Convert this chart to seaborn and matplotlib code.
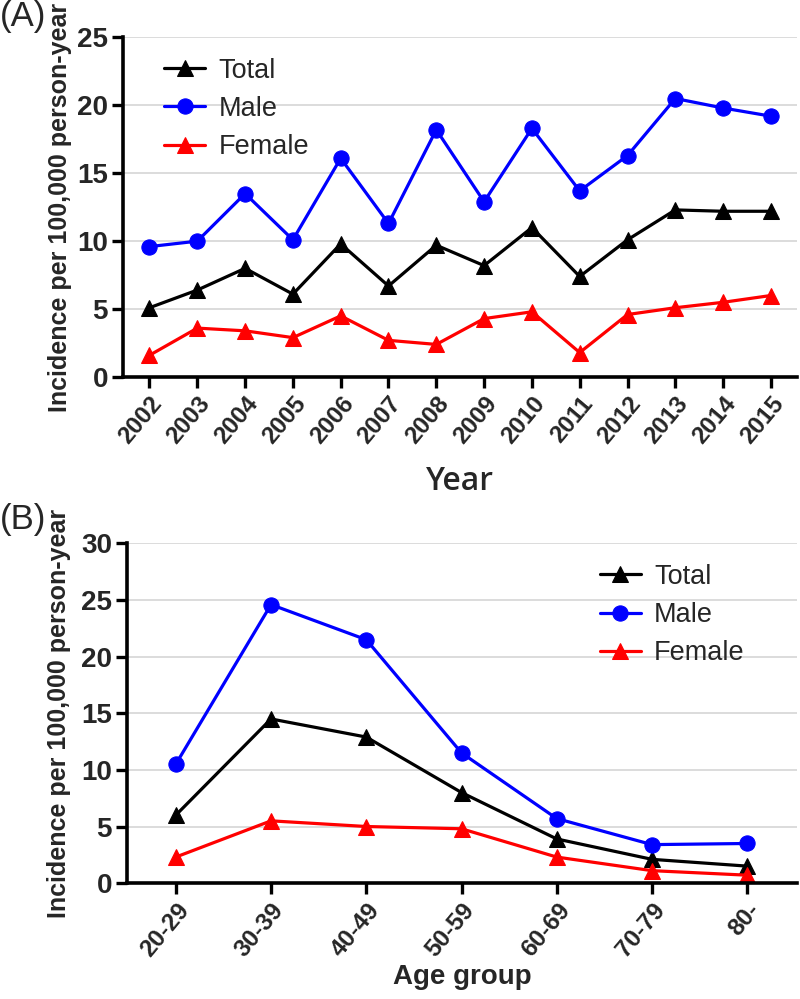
"""
Incidence per 100,000 person-year by year (A) and by age group (B).
"""

import pandas as pd
import seaborn as sns
import matplotlib.pyplot as plt

# Panel A: incidence by year
years = ['2002', '2003', '2004', '2005', '2006', '2007', '2008',
         '2009', '2010', '2011', '2012', '2013', '2014', '2015']
total_by_year = [5.1, 6.4, 8.0, 6.1, 9.8, 6.7, 9.7, 8.2, 11.0, 7.4, 10.1, 12.3, 12.2, 12.2]
male_by_year = [9.6, 10.0, 13.5, 10.1, 16.1, 11.3, 18.2, 12.9, 18.3, 13.7, 16.3, 20.5, 19.8, 19.2]
female_by_year = [1.6, 3.6, 3.4, 2.9, 4.5, 2.7, 2.4, 4.3, 4.8, 1.8, 4.6, 5.1, 5.5, 6.0]

# Panel B: incidence by age group
age_groups = ['20-29', '30-39', '40-49', '50-59', '60-69', '70-79', '80-']
total_by_age = [6.0, 14.5, 12.9, 8.0, 3.9, 2.1, 1.5]
male_by_age = [10.5, 24.6, 21.5, 11.5, 5.7, 3.4, 3.5]
female_by_age = [2.3, 5.5, 5.0, 4.8, 2.3, 1.1, 0.7]

sns.set_style("white")
plt.rcParams['font.family'] = ['Liberation Sans', 'DejaVu Sans']

# Style of each series: (color, marker)
series_styles = {
    'Total': ('black', '^'),
    'Male': ('#0000ff', 'o'),
    'Female': ('#ff0000', '^'),
}

ylabel_text = 'Incidence per 100,000 person-year'


def draw_panel(ax, categories, series, ymax, legend_anchor, xlim, rotation):
    """Draw one panel with the three series."""
    x_pos = list(range(len(categories)))
    for name, values in series.items():
        color, marker = series_styles[name]
        df = pd.DataFrame({'x': x_pos, 'y': values})
        sns.lineplot(data=df, x='x', y='y', ax=ax, color=color, marker=marker,
                     markersize=11, markeredgecolor=color, linewidth=2.3,
                     label=name, sort=False, clip_on=False)

    ax.set_ylim(0, ymax)
    ax.set_xlim(*xlim)
    ax.set_yticks(range(0, ymax + 1, 5))
    ax.set_xticks(x_pos)
    ax.set_xticklabels(categories, rotation=rotation, ha='right',
                       rotation_mode='anchor', fontweight='bold', fontsize=17.5)
    for lab in ax.get_yticklabels():
        lab.set_fontweight('bold')
        lab.set_fontsize(20)

    # Light horizontal grid
    ax.yaxis.grid(True, color='#dcdcdc', linewidth=1.4)
    ax.xaxis.grid(False)
    ax.set_axisbelow(True)

    # Thick left/bottom spines with outward ticks
    sns.despine(ax=ax)
    for side in ['left', 'bottom']:
        ax.spines[side].set_linewidth(2.6)
        ax.spines[side].set_color('black')
    ax.tick_params(axis='both', direction='out', length=8, width=2.4,
                   color='black', left=True, bottom=True, pad=3)

    ax.set_ylabel(ylabel_text, fontsize=18, fontweight='bold')

    ax.legend(loc='upper left', bbox_to_anchor=legend_anchor, frameon=False,
              fontsize=19.5, handlelength=1.5, handletextpad=0.5, labelspacing=0.45,
              borderaxespad=0)


fig = plt.figure(figsize=(8, 9.99), dpi=100)

# Panel A
ax_a = fig.add_axes([0.154, 0.6226, 0.8425, 0.340])
draw_panel(ax_a, years,
           {'Total': total_by_year, 'Male': male_by_year, 'Female': female_by_year},
           25, (0.045, 0.972), (-0.55, 13.55), 50)
ax_a.set_xlabel('Year', fontsize=23, fontweight='semibold',
                family=['Open Sans', 'DejaVu Sans'], labelpad=12)
ax_a.yaxis.set_label_coords(-0.076, 0.50)

# Panel B
ax_b = fig.add_axes([0.159, 0.116, 0.837, 0.340])
draw_panel(ax_b, age_groups,
           {'Total': total_by_age, 'Male': male_by_age, 'Female': female_by_age},
           30, (0.69, 0.972), (-0.51, 6.52), 50)
ax_b.set_xlabel('Age group', fontsize=20, fontweight='bold', labelpad=2)
ax_b.yaxis.set_label_coords(-0.084, 0.50)

# Panel letters
fig.text(0.0, 1.0, '(A)', fontsize=25, va='top', ha='left')
fig.text(0.0, 0.496, '(B)', fontsize=25, va='top', ha='left')

plt.savefig('out.png', dpi=100)
